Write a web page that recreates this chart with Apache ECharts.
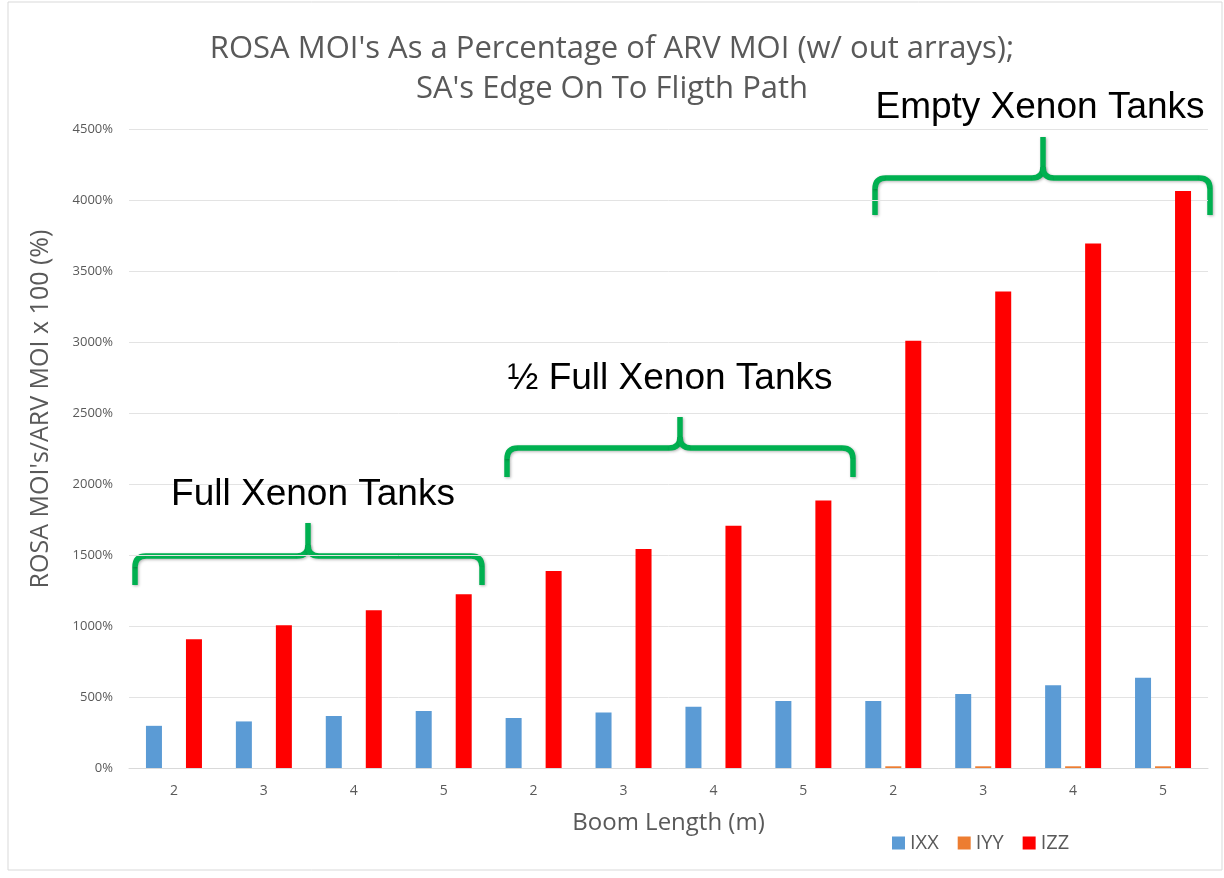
<!DOCTYPE html>
<html>
<head>
<meta charset="utf-8">
<script src="https://cdn.jsdelivr.net/npm/echarts@6/dist/echarts.min.js"></script>
<style>
  html, body { margin: 0; padding: 0; background: #fff; }
  #chart { width: 1224px; height: 878px; }
</style>
</head>
<body>
<div id="chart"></div>
<script>
// boom lengths, repeated for full / half / empty xenon tanks
var categories = ['2', '3', '4', '5', '2', '3', '4', '5', '2', '3', '4', '5'];
var ixx = [297, 328, 366, 401, 352, 391, 432, 472, 472, 521, 582, 635];
var iyy = [0, 0, 0, 0, 0, 0, 0, 0, 12, 12, 12, 12];
var izz = [906, 1005, 1111, 1224, 1387, 1543, 1706, 1883, 3008, 3355, 3694, 4064];
var yTicks = { min: 0, max: 4500, interval: 500 };

var GREY = '#595959';
var braceStyle = {
    fill: 'none', stroke: '#00b050', lineWidth: 5.5, lineCap: 'butt',
    shadowBlur: 3, shadowColor: 'rgba(0,0,0,0.3)', shadowOffsetX: 1, shadowOffsetY: 1
};

// curly brace: ends hang down, point in the middle goes up
function brace(left, right, mid, bar, bottom, tip) {
    var r = 11;
    function ln(x1, y1, x2, y2) {
        return { type: 'line', shape: { x1: x1, y1: y1, x2: x2, y2: y2 }, style: braceStyle };
    }
    function crv(x1, y1, cx, cy, x2, y2) {
        return { type: 'bezierCurve', shape: { x1: x1, y1: y1, cpx1: cx, cpy1: cy, x2: x2, y2: y2 }, style: braceStyle };
    }
    return {
        type: 'group',
        z: 10,
        children: [
            ln(left, bottom, left, bar + r),
            crv(left, bar + r, left, bar, left + r, bar),
            ln(left + r, bar, mid - r, bar),
            crv(mid - r, bar, mid, bar, mid, bar - r),
            ln(mid, bar - r, mid, tip),
            crv(mid, bar - r, mid, bar, mid + r, bar),
            ln(mid + r, bar, right - r, bar),
            crv(right - r, bar, right, bar, right, bar + r),
            ln(right, bar + r, right, bottom)
        ]
    };
}

function note(text, x, y) {
    return {
        type: 'text',
        x: x, y: y,
        style: { text: text, fill: '#000', font: '37px "Liberation Sans", Arial, sans-serif', align: 'center', verticalAlign: 'middle' },
        z: 10
    };
}

var chart = echarts.init(document.getElementById('chart'));
chart.setOption({
    animation: false,
    title: {
        text: "ROSA MOI's As a Percentage of ARV MOI (w/ out arrays);\nSA's Edge On To Fligth Path",
        left: 'center',
        top: 24,
        textStyle: { color: GREY, fontSize: 31, fontWeight: 'normal', fontFamily: 'Open Sans', lineHeight: 40 }
    },
    grid: { left: 129, right: 16, top: 129, bottom: 110 },
    legend: {
        data: ['IXX', 'IYY', 'IZZ'],
        left: 887,
        top: 828,
        itemWidth: 13,
        itemHeight: 13,
        itemGap: 19,
        icon: 'rect',
        textStyle: { color: GREY, fontSize: 20, fontFamily: 'Open Sans' }
    },
    xAxis: {
        type: 'category',
        data: categories,
        name: 'Boom Length (m)',
        nameLocation: 'middle',
        nameGap: 43,
        nameTextStyle: { color: GREY, fontSize: 24, fontFamily: 'Open Sans' },
        axisLine: { lineStyle: { color: '#d9d9d9' } },
        axisTick: { show: false },
        axisLabel: { color: GREY, fontSize: 14, margin: 16, fontFamily: 'Open Sans' }
    },
    yAxis: {
        type: 'value',
        min: yTicks.min,
        max: yTicks.max,
        interval: yTicks.interval,
        axisLine: { show: false },
        axisTick: { show: false },
        axisLabel: {
            formatter: function (v) { return v + '%'; },
            color: GREY, fontSize: 13, margin: 16, fontFamily: 'Open Sans'
        },
        splitLine: { lineStyle: { color: '#e3e3e3' } }
    },
    series: [
        { name: 'IXX', type: 'bar', data: ixx, barWidth: 16, barGap: '25%', itemStyle: { color: '#5b9bd5' } },
        { name: 'IYY', type: 'bar', data: iyy, barWidth: 16, barGap: '25%', itemStyle: { color: '#ed7d31' } },
        { name: 'IZZ', type: 'bar', data: izz, barWidth: 16, barGap: '25%', itemStyle: { color: '#ff0000' } }
    ],
    graphic: [
        {
            type: 'rect',
            shape: { x: 8, y: 2, width: 1214, height: 868 },
            style: { fill: 'none', stroke: '#d9d9d9', lineWidth: 1 },
            silent: true
        },
        {
            // y axis title sits above the middle of the axis, as in the original
            type: 'text',
            x: 41, y: 409,
            rotation: Math.PI / 2,
            style: {
                text: "ROSA MOI's/ARV MOI x 100 (%)", fill: GREY,
                font: '25px "Open Sans", sans-serif', align: 'center', verticalAlign: 'middle'
            }
        },
        brace(135, 482, 308, 556, 585, 523),
        brace(507, 853, 680, 448, 477, 417),
        brace(875, 1210, 1043, 178, 215, 137),
        note('Full Xenon Tanks', 313, 495),
        note('\u00bd Full Xenon Tanks', 670, 379),
        note('Empty Xenon Tanks', 1040, 108)
    ]
});
</script>
</body>
</html>
